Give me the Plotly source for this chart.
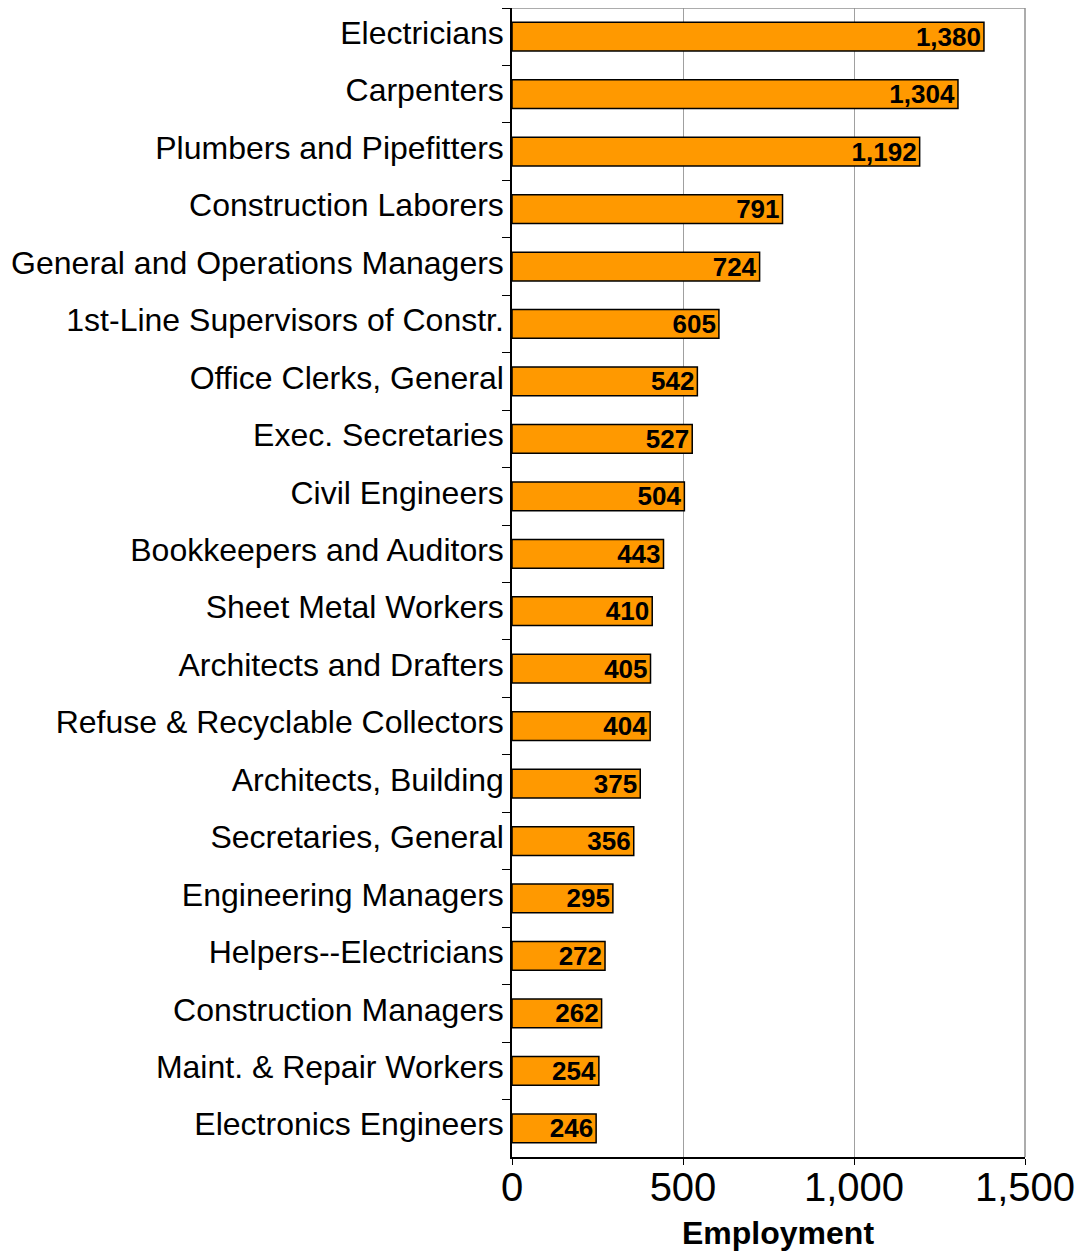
import plotly.graph_objects as go

categories = ["Electricians", "Carpenters", "Plumbers and Pipefitters", "Construction Laborers",
              "General and Operations Managers", "1st-Line Supervisors of Constr.",
              "Office Clerks, General", "Exec. Secretaries", "Civil Engineers",
              "Bookkeepers and Auditors", "Sheet Metal Workers", "Architects and Drafters",
              "Refuse & Recyclable Collectors", "Architects, Building", "Secretaries, General",
              "Engineering Managers", "Helpers--Electricians", "Construction Managers",
              "Maint. & Repair Workers", "Electronics Engineers"]
values = [1380, 1304, 1192, 791, 724, 605, 542, 527, 504, 443, 410, 405, 404, 375, 356,
          295, 272, 262, 254, 246]
x_ticks = [0, 500, 1000, 1500]
x_tick_labels = ["0", "500", "1,000", "1,500"]

fig = go.Figure(go.Bar(
    y=categories, x=values, orientation="h",
    marker=dict(color="#FF9900", line=dict(color="#000000", width=1.5)),
    text=[f"{v:,}" for v in values], textposition="inside", insidetextanchor="end",
    textfont=dict(family="Liberation Sans, Arial", size=26, color="black", weight="bold"),
    textangle=0, cliponaxis=False,
))

fig.update_layout(
    width=1078, height=1243,
    margin=dict(l=504, r=61, t=0, b=94, autoexpand=False),
    plot_bgcolor="white", paper_bgcolor="white",
    bargap=0.5, showlegend=False,
    font=dict(family="Liberation Sans, Arial", color="black"),
    uniformtext=dict(minsize=26, mode="show"),
)
fig.update_xaxes(
    range=[0, 1500], tickvals=x_ticks, ticktext=x_tick_labels,
    tickfont=dict(size=40), showgrid=True, gridcolor="#A0A0A0", gridwidth=1,
    showline=True, linecolor="black", linewidth=1.5, mirror=False,
    ticks="outside", ticklen=6, tickcolor="black", ticklabelstandoff=-12,
    zeroline=False, automargin=False,
)
fig.update_yaxes(
    autorange="reversed", categoryorder="array", categoryarray=categories,
    tickfont=dict(size=32), showline=True, linecolor="black", linewidth=1.5,
    ticks="outside", tickson="boundaries", ticklen=8, tickcolor="black",
    ticklabelshift=4,
    showgrid=False, automargin=False,
)
fig.add_annotation(text="<b>Employment</b>", xref="paper", yref="paper",
                   x=0.518, y=0, yanchor="middle", yshift=-76, showarrow=False,
                   font=dict(size=32, color="black"))
# gray top/right plot border
fig.add_shape(type="line", xref="paper", yref="paper", x0=0, x1=1, y0=1, y1=1,
              line=dict(color="#909090", width=1.5))
fig.add_shape(type="line", xref="paper", yref="paper", x0=1, x1=1, y0=0, y1=1,
              line=dict(color="#909090", width=1.5))

fig.write_html("out.html")
